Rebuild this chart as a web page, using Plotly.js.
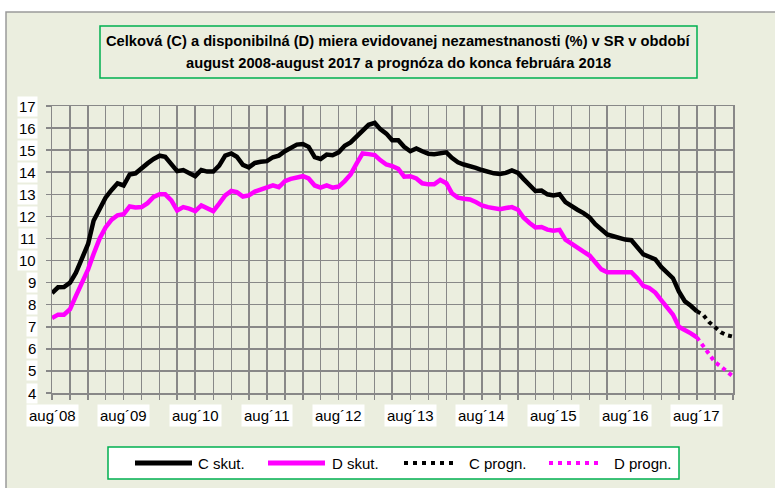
<!DOCTYPE html>
<html>
<head>
<meta charset="utf-8">
<script src="https://cdn.plot.ly/plotly-3.0.1.min.js"></script>
<style>
  html, body { margin: 0; padding: 0; background: #ffffff; }
  #chart { width: 775px; height: 488px; }
</style>
</head>
<body>
<div id="chart"></div>
<script>
// ---- Data (monthly, aug 2008 - aug 2017; forecast aug 2017 - feb 2018) ----
var startYear = 2008, startMonth = 8; // August 2008

var cActual = [
  8.53, 8.79, 8.8, 9.0, 9.45, 10.05, 10.75, 11.8, 12.35, 12.85,
  13.2, 13.5, 13.4, 13.9, 13.95, 14.2, 14.4, 14.6, 14.75, 14.7,
  14.35, 14.05, 14.1, 13.95, 13.82, 14.1, 14.03, 14.03, 14.3, 14.75,
  14.85, 14.7, 14.33, 14.22, 14.42, 14.47, 14.5, 14.68, 14.75, 14.95,
  15.12, 15.25, 15.28, 15.15, 14.68, 14.6, 14.8, 14.77, 14.9, 15.2,
  15.35, 15.6, 15.9, 16.15, 16.24, 15.95, 15.75, 15.45, 15.45, 15.15,
  14.95, 15.08, 14.95, 14.84, 14.82, 14.88, 14.9, 14.65, 14.45, 14.35,
  14.3, 14.2, 14.1, 14.02, 13.95, 13.92, 13.97, 14.08, 13.97, 13.7,
  13.4, 13.15, 13.17, 13.0, 12.95, 13.0, 12.65, 12.45, 12.3, 12.15,
  11.95, 11.65, 11.4, 11.18, 11.1, 11.02, 10.95, 10.92, 10.6, 10.28,
  10.17, 10.05, 9.7, 9.45, 9.2, 8.6, 8.15, 7.95, 7.7
];
var dActual = [
  7.4, 7.55, 7.55, 7.8, 8.4, 9.0, 9.6, 10.3, 11.0, 11.5,
  11.85, 12.05, 12.1, 12.45, 12.4, 12.42, 12.6, 12.88, 13.0, 13.0,
  12.73, 12.27, 12.42, 12.35, 12.24, 12.5, 12.35, 12.24, 12.58, 12.95,
  13.15, 13.1, 12.9, 12.95, 13.12, 13.2, 13.3, 13.41, 13.32, 13.6,
  13.7, 13.78, 13.82, 13.72, 13.4, 13.3, 13.4, 13.3, 13.35, 13.6,
  13.9, 14.4, 14.85, 14.82, 14.78, 14.55, 14.35, 14.28, 14.15, 13.8,
  13.82, 13.72, 13.5, 13.45, 13.45, 13.65, 13.5, 13.05, 12.85, 12.8,
  12.77, 12.65, 12.5, 12.42, 12.35, 12.32, 12.38, 12.42, 12.3, 11.95,
  11.7, 11.5, 11.52, 11.4, 11.35, 11.39, 10.95, 10.75, 10.6, 10.4,
  10.23, 9.9, 9.6, 9.47, 9.47, 9.47, 9.47, 9.47, 9.2, 8.85,
  8.76, 8.55, 8.2, 7.9, 7.55, 7.0, 6.87, 6.7, 6.52
];
// forecasts: aug 2017 .. feb 2018
var forecastStartIndex = 108;
var cForecast = [7.7, 7.55, 7.22, 6.95, 6.75, 6.62, 6.55];
var dForecast = [6.52, 6.14, 5.76, 5.4, 5.2, 5.0, 4.75];

var xTickDates = ['2008-08-01','2009-08-01','2010-08-01','2011-08-01','2012-08-01',
                  '2013-08-01','2014-08-01','2015-08-01','2016-08-01','2017-08-01'];
var xTickText = ['aug\u00b408','aug\u00b409','aug\u00b410','aug\u00b411','aug\u00b412',
                 'aug\u00b413','aug\u00b414','aug\u00b415','aug\u00b416','aug\u00b417'];
var yTickVals = [4,5,6,7,8,9,10,11,12,13,14,15,16,17];

var seriesNames = ['C skut.', 'D skut.', 'C progn.', 'D progn.'];
var seriesColors = ['#000000', '#FF00FF', '#000000', '#FF00FF'];
var titleLines = [
  'Celková (C) a disponibilná (D) miera evidovanej nezamestnanosti (%) v SR v období',
  'august 2008-august 2017 a prognóza do konca februára 2018'
];

// ---- helpers ----
function monthDate(i) {
  var m0 = (startMonth - 1) + i;
  var y = startYear + Math.floor(m0 / 12);
  var m = (m0 % 12) + 1;
  return y + '-' + (m < 10 ? '0' + m : m) + '-01';
}
function datesFrom(start, n) {
  var out = [];
  for (var i = 0; i < n; i++) out.push(monthDate(start + i));
  return out;
}

var FONT = '"Liberation Sans", Arial, sans-serif';
var GRID = '#888888';
var BG = '#EBEEDF';
var GREEN = '#00B050';
var SOLID_W = 4.5, DOT_W = 4, DOT_DASH = '4px,4px';

var traces = [
  { x: datesFrom(0, cActual.length), y: cActual, name: seriesNames[0], type: 'scatter', mode: 'lines',
    line: { color: seriesColors[0], width: SOLID_W } },
  { x: datesFrom(0, dActual.length), y: dActual, name: seriesNames[1], type: 'scatter', mode: 'lines',
    line: { color: seriesColors[1], width: SOLID_W } },
  { x: datesFrom(forecastStartIndex, cForecast.length), y: cForecast, name: seriesNames[2], type: 'scatter', mode: 'lines',
    line: { color: seriesColors[2], width: DOT_W, dash: DOT_DASH } },
  { x: datesFrom(forecastStartIndex, dForecast.length), y: dForecast, name: seriesNames[3], type: 'scatter', mode: 'lines',
    line: { color: seriesColors[3], width: DOT_W, dash: DOT_DASH } }
];

// layout geometry (pixels): plot area x 52..733, y 106..393
var L = 52, R = 42, T = 106, B = 95;
var PW = 775 - L - R, PH = 488 - T - B;
function px(x) { return (x - L) / PW; }
function py(y) { return (488 - B - y) / PH; }

var annotations = [];
var titleY = [41, 63];
for (var k = 0; k < titleLines.length; k++) {
  annotations.push({
    xref: 'paper', yref: 'paper', x: px(398.5), y: py(titleY[k]), xanchor: 'center', yanchor: 'middle',
    text: '<b>' + titleLines[k] + '</b>', showarrow: false, align: 'center',
    font: { family: FONT, size: 14.7, color: '#000000' }
  });
}
for (var i = 0; i < xTickDates.length; i++) {
  annotations.push({
    xref: 'x', yref: 'paper', x: xTickDates[i], y: py(415), xanchor: 'center', yanchor: 'middle',
    text: xTickText[i], showarrow: false, bgcolor: '#ffffff', borderpad: 2,
    font: { family: FONT, size: 15, color: '#000000' }
  });
}
for (var j = 0; j < yTickVals.length; j++) {
  annotations.push({
    xref: 'paper', yref: 'y', x: px(37.5), y: yTickVals[j], xanchor: 'right', yanchor: 'middle',
    text: String(yTickVals[j]), showarrow: false, bgcolor: '#ffffff', borderpad: 1,
    font: { family: FONT, size: 15, color: '#000000' }
  });
}

var shapes = [
  // outer chart frame
  { type: 'rect', xref: 'paper', yref: 'paper', layer: 'below',
    x0: px(6), x1: px(800), y0: py(520), y1: py(12),
    fillcolor: BG, line: { color: '#9a9a9a', width: 1.5 } },
  // title box
  { type: 'rect', xref: 'paper', yref: 'paper', layer: 'above',
    x0: px(100), x1: px(697), y0: py(78), y1: py(26),
    fillcolor: 'rgba(0,0,0,0)', line: { color: GREEN, width: 1.5 } },
  // legend box
  { type: 'rect', xref: 'paper', yref: 'paper', layer: 'above',
    x0: px(108), x1: px(679), y0: py(479), y1: py(447),
    fillcolor: '#ffffff', line: { color: GREEN, width: 1.5 } }
];

// legend entries (sample line + label)
var legendSampleX = [[135, 192], [268, 325], [404, 457], [549, 599]];
var legendTextX = [196, 330, 467, 612];
var legendY = 463;
for (var s = 0; s < seriesNames.length; s++) {
  var dotted = s >= 2;
  shapes.push({
    type: 'line', xref: 'paper', yref: 'paper', layer: 'above',
    x0: px(legendSampleX[s][0]), x1: px(legendSampleX[s][1]), y0: py(legendY), y1: py(legendY),
    line: { color: seriesColors[s], width: dotted ? DOT_W : SOLID_W + 0.5, dash: dotted ? '4px,5px' : 'solid' }
  });
  annotations.push({
    xref: 'paper', yref: 'paper', x: px(legendTextX[s]), y: py(legendY), xanchor: 'left', yanchor: 'middle',
    text: seriesNames[s], showarrow: false,
    font: { family: FONT, size: 15, color: '#000000' }
  });
}

var axisCommon = {
  showgrid: true, gridcolor: GRID, gridwidth: 1.5,
  showline: true, linecolor: GRID, linewidth: 1.5, mirror: true,
  ticks: 'outside', ticklen: 5, tickcolor: GRID, tickwidth: 1.5,
  showticklabels: false, zeroline: false, fixedrange: true
};

var layout = {
  width: 775, height: 488,
  margin: { l: L, r: R, t: T, b: B, pad: 0 },
  paper_bgcolor: '#ffffff',
  plot_bgcolor: '#ffffff',
  font: { family: FONT, size: 15, color: '#000000' },
  xaxis: Object.assign({}, axisCommon, {
    type: 'date', range: ['2008-08-01', '2018-02-01'],
    tick0: '2008-08-01', dtick: 'M3'
  }),
  yaxis: Object.assign({}, axisCommon, {
    range: [4, 17], tick0: 4, dtick: 1
  }),
  showlegend: false,
  annotations: annotations,
  shapes: shapes
};

Plotly.newPlot('chart', traces, layout, { displayModeBar: false, staticPlot: true });
</script>
</body>
</html>
